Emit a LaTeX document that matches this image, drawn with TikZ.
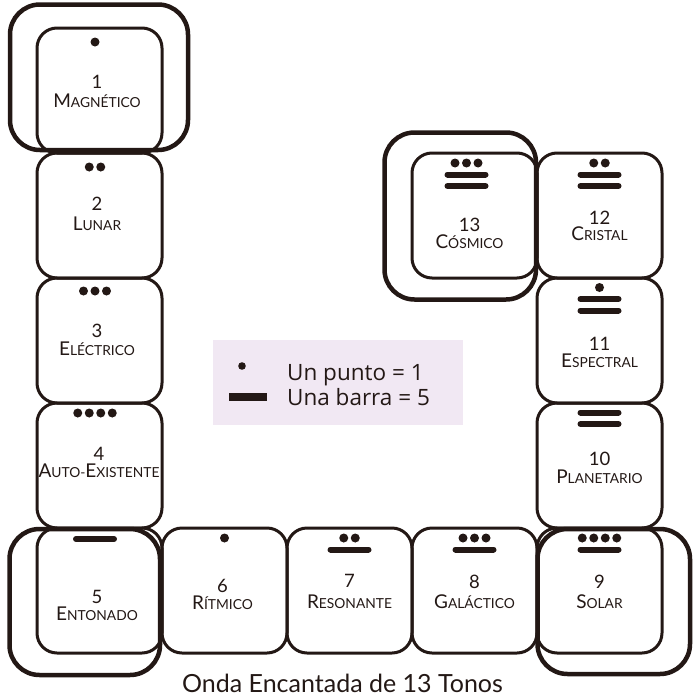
\documentclass[tikz,border=0pt]{standalone}
\usepackage{fontspec}
\setmainfont{Lato}
\newfontfamily\keyfont{Open Sans}
\usetikzlibrary{calc}
\definecolor{LineClr}{HTML}{231815}
\definecolor{KeyClr}{HTML}{F1E8F3}
\newcommand\capl[1]{{\fontsize{19}{19}\selectfont #1}}

\tikzset{
  tile/.style={draw=LineClr, line width=3pt, rounded corners=20pt,
    minimum size=125pt, inner sep=0pt, outer sep=0pt},
  frame/.style={draw=LineClr, line width=4.5pt, rounded corners=30pt},
  tonenum/.style={anchor=base, inner sep=0pt, text=LineClr,
    font=\fontsize{18.5}{18.5}\selectfont},
  tonename/.style={anchor=base, inner sep=0pt, text=LineClr,
    font=\fontsize{13.8}{13.8}\selectfont},
  bar/.style={draw=LineClr, line width=6pt, line cap=round},
  keybox/.style={fill=KeyClr, minimum width=250pt, minimum height=85pt,
    inner sep=0pt, outer sep=0pt},
  keytext/.style={anchor=base west, inner sep=0pt, text=LineClr,
    font=\keyfont\fontsize{22.5}{22.5}\selectfont},
}

\begin{document}
\begin{tikzpicture}[x=1pt,y=-1pt]
\useasboundingbox (0,0) rectangle (696,696);

% outer frames of the four corner tones
\draw[frame] (10,4.5) rectangle (188,150);
\draw[frame] (9.5,529) rectangle (160,675);
\draw[frame] (537.5,529) rectangle (690,674);
\draw[frame] (384.5,132.5) rectangle (536,299.5);

% tiles
\foreach \i/\x/\y in {1/99.5/90.5, 2/99.5/215.5, 3/99.5/340.5, 4/99.5/465.5,
  5/99.5/590.5, 6/224.5/590.5, 7/349.5/590.5, 8/474.5/590.5, 9/599.5/590.5,
  10/599.5/465.5, 11/599.5/340.5, 12/599.5/215.5, 13/474.5/215.5}
  \node[tile] (t\i) at (\x,\y) {};

% dots and bars
\foreach \i/\d/\b/\dx/\dy in {1/1/0/-4.5/14, 2/2/0/-4.5/14, 3/3/0/-4.5/13,
  4/4/0/-4.5/10, 5/0/1/-4.5/11, 6/1/0/0/10, 7/2/1/0/10, 8/3/1/0/10,
  9/4/1/0/10, 10/0/2/0/9.5, 11/1/2/0/9.5, 12/2/2/0/10, 13/3/2/-8/10}{
  \ifnum\d>0
    \foreach \k in {1,...,\d}
      \fill[LineClr] ($(t\i.north)+({\dx+(\k-(\d+1)/2)*11.5},\dy)$) circle (4.5);
  \fi
  \ifnum\b>0
    \foreach \j in {1,...,\b}{
      \pgfmathsetmacro\yy{\dy+11.5*(\j-1+min(\d,1))}
      \draw[bar] ($(t\i.north)+(\dx-19,\yy)$) -- ($(t\i.north)+(\dx+19,\yy)$);
    }
  \fi
}

% numbers and names
\foreach \i/\dx/\nb/\wb/\word in {
  1/-2.5/-2.5/16.5/{\capl{M}AGNÉTICO},
  2/-2.5/-5.5/14.5/{\capl{L}UNAR},
  3/-2.5/-3.5/14.5/{\capl{E}LÉCTRICO},
  4/-0.5/-5.5/11.5/{\capl{A}UTO-\capl{E}XISTENTE},
  5/-2.5/12.5/29.5/{\capl{E}NTONADO},
  6/-2/1.5/18.5/{\capl{R}ÍTMICO},
  7/0/-3/17.5/{\capl{R}ESONANTE},
  8/0/-2.5/17.5/{\capl{G}ALÁCTICO},
  9/0/-2.5/17.5/{\capl{S}OLAR},
  10/0/-0.5/17.5/{\capl{P}LANETARIO},
  11/0/9.5/26.5/{\capl{E}SPECTRAL},
  12/0/8.5/24.5/{\capl{C}RISTAL},
  13/-5/15.5/32.5/{\capl{C}ÓSMICO}}{
  \node[tonenum] (n\i) at ($(t\i.center)+(\dx,\nb)$) {\i};
  \node[tonename] (w\i) at ($(t\i.center)+(\dx,\wb)$) {\word};
}

% key
\node[keybox] (key) at (338,382.5) {};
\fill[LineClr] (242,366) circle (3.8);
\fill[LineClr] (229,393) rectangle (267,401);
\node[keytext] (k1) at (287,380) {Un punto = 1};
\node[keytext] (k2) at (287,405) {Una barra = 5};

% title
\node[anchor=base, inner sep=0pt, text=LineClr, font=\fontsize{25}{25}\selectfont]
  (title) at (342.5,692) {Onda Encantada de 13 Tonos};
\end{tikzpicture}
\end{document}
